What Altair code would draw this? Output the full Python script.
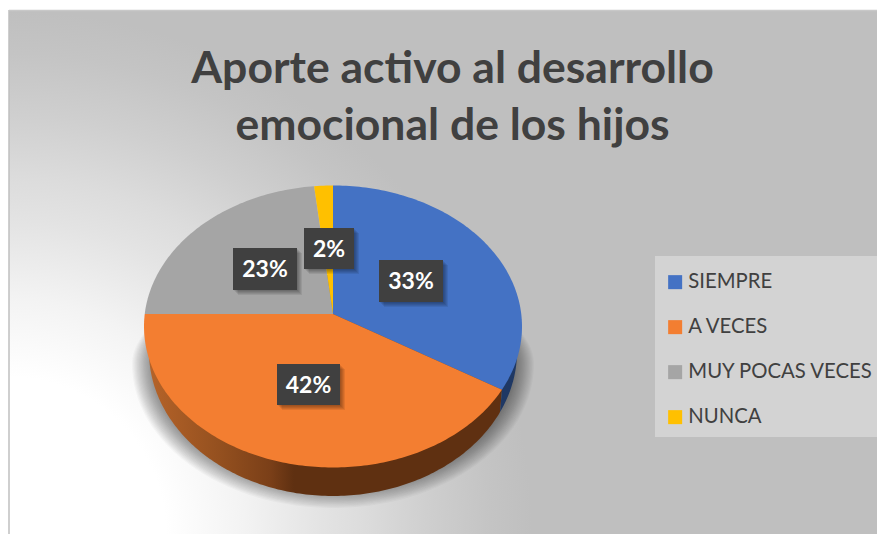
import math
import altair as alt
import pandas as pd

categories = ["SIEMPRE", "A VECES", "MUY POCAS VECES", "NUNCA"]
values = [33, 42, 23.4, 1.6]
colors = ["#4472c4", "#f37e31", "#a5a5a5", "#ffc000"]
labels = ["33%", "42%", "23%", "2%"]
label_boxes = [(379, 443, 260, 302), (277, 340, 364, 405), (233, 297, 248, 290), (304, 354, 228, 269)]
legend_box = [(655, 877, 256, 437)]
title_lines = ["Aporte activo al desarrollo", "emocional de los hijos"]
title_pos = [(452.5, 83), (452.5, 140)]

CX, CY, RX, RUP, RDOWN = 333, 314, 189, 129, 154
FACE_CY, FACE_RY = 326.5, 141
BASE_RX, BASE_CY, BASE_RY = 184, 351.5, 144.5
W, H = 869, 526
xs = alt.Scale(domain=[8, 877], range=[0, W], zero=False, nice=False)
ys = alt.Scale(domain=[8, 534], range=[0, H], zero=False, nice=False)


def soft_rim(t, rx=RX, up=RUP, down=RDOWN):
    c = math.cos(t)
    return CX + rx * math.sin(t), CY - (up if c > 0 else down) * c


def rim(t):
    # the ray through the pie's centre, met with the face's outline
    px, py = soft_rim(t)
    dx, dy = px - CX, py - CY
    oy = CY - FACE_CY
    a = dx * dx / RX ** 2 + dy * dy / FACE_RY ** 2
    b = 2 * oy * dy / FACE_RY ** 2
    c = oy * oy / FACE_RY ** 2 - 1
    s = (-b + math.sqrt(b * b - 4 * a * c)) / (2 * a)
    return CX + s * dx, CY + s * dy


def base(u):
    return CX + BASE_RX * math.sin(u), BASE_CY - BASE_RY * math.cos(u)


def samples(a, b, step=1.0):
    n = max(2, int(abs(b - a) / step) + 2)
    return [math.radians(a + (b - a) * k / (n - 1)) for k in range(n)]


# top-face slices
rows = []
start = 0.0
for cat, v in zip(categories, values):
    end = start + v * 3.6
    pts = [(CX, CY)] + [rim(t) for t in samples(start, end)] + [(CX, CY)]
    for i, (x, y) in enumerate(pts):
        rows.append({"cat": cat, "i": i, "x": x, "y": y})
    start = end
slices = pd.DataFrame(rows)

# the rim point where the first two slices meet
seam = rim(math.radians(values[0] * 3.6))


# side walls: the base outline, closed under the face
def wall(a, b, closing):
    pts = [base(u) for u in samples(a, b)] + closing
    return pd.DataFrame([{"i": i, "x": x, "y": y} for i, (x, y) in enumerate(pts)])


blue_wall = wall(60, 114.8, [seam, (CX, CY)])
orange_wall = wall(114.8, 285, [(CX, CY), seam])

# soft shadow under the pie
shadow_rows = []
SHADOW_LAYERS = 16
for k in range(SHADOW_LAYERS):
    grow = 12 - k * 1.2
    for i, t in enumerate(samples(0, 360, 3)):
        x, y = soft_rim(t, RX + grow, RUP - 40, 132 + grow)
        shadow_rows.append({"k": k, "i": i, "x": x, "y": y + 50})
shadow = pd.DataFrame(shadow_rows)

boxes = pd.DataFrame(
    [{"x": b[0], "x2": b[1], "y": b[2], "y2": b[3], "t": l,
      "tx": (b[0] + b[1]) / 2, "ty": (b[2] + b[3]) / 2 + 1} for b, l in zip(label_boxes, labels)]
)
box_shadows = pd.DataFrame(
    [{"x": b[0] + o, "x2": b[1] + o, "y": b[2] + o, "y2": b[3] + o} for b in label_boxes for o in (1, 2, 3, 4, 5)]
)
legend_bg = pd.DataFrame([{"x": b[0], "x2": b[1], "y": b[2], "y2": b[3]} for b in legend_box])
titles = pd.DataFrame([{"t": t, "x": p[0], "y": p[1]} for t, p in zip(title_lines, title_pos)])

bg_base = alt.Chart(pd.DataFrame({"a": [0]})).mark_rect(color="#bfbfbf").encode(
    x=alt.value(1), x2=alt.value(W), y=alt.value(3), y2=alt.value(H)
)
bg = alt.Chart(pd.DataFrame({"a": [0]})).mark_rect(
    color=alt.Gradient(
        gradient="radial", x1=0, y1=1, r1=0, x2=0, y2=1, r2=1.0,
        stops=[
            alt.GradientStop(offset=0, color="#ffffff"),
            alt.GradientStop(offset=0.3, color="#ffffff"),
            alt.GradientStop(offset=0.45, color="#f3f3f3"),
            alt.GradientStop(offset=0.6, color="#e3e3e3"),
            alt.GradientStop(offset=0.68, color="#dcdcdc"),
            alt.GradientStop(offset=0.8, color="#cfcfcf"),
            alt.GradientStop(offset=0.92, color="#c4c4c4"),
            alt.GradientStop(offset=1, color="#bfbfbf"),
        ],
    )
).encode(x=alt.value(1), x2=alt.value(H - 2), y=alt.value(3), y2=alt.value(H))

frame_left = alt.Chart(pd.DataFrame({"a": [0]})).mark_rule(color="#bfbfbf", strokeWidth=1.5).encode(
    x=alt.value(1), y=alt.value(2), y2=alt.value(H)
)
frame_top = alt.Chart(pd.DataFrame({"a": [0]})).mark_rule(color="#c8c8c8", strokeWidth=1.5).encode(
    x=alt.value(1), x2=alt.value(W), y=alt.value(2.5)
)

X = alt.X("x:Q", scale=xs, axis=None)
Y = alt.Y("y:Q", scale=ys, axis=None)

shadow_layer = alt.Chart(shadow).mark_line(fill="#000000", fillOpacity=0.027, strokeOpacity=0).encode(
    x=X, y=Y, detail="k:N", order="i:Q"
)

orange_side = alt.Chart(orange_wall).mark_line(
    strokeOpacity=0,
    fill=alt.Gradient(
        gradient="linear", x1=1, y1=0, x2=0, y2=0,
        stops=[
            alt.GradientStop(offset=0, color="#5f3011"),
            alt.GradientStop(offset=0.59, color="#5f3011"),
            alt.GradientStop(offset=0.655, color="#7a3f18"),
            alt.GradientStop(offset=0.8, color="#94501f"),
            alt.GradientStop(offset=1, color="#b56329"),
        ],
    ),
).encode(x=X, y=Y, order="i:Q")

blue_side = alt.Chart(blue_wall).mark_line(fill="#1f3864", strokeOpacity=0).encode(x=X, y=Y, order="i:Q")

faces = alt.Chart(slices).mark_line(strokeOpacity=0).encode(
    x=X,
    y=Y,
    order="i:Q",
    fill=alt.Fill(
        "cat:N",
        scale=alt.Scale(domain=categories, range=colors),
        legend=alt.Legend(
            orient="none", legendX=657, legendY=264, title=None,
            padding=0, symbolType="square", symbolSize=196, symbolStrokeWidth=0,
            labelFont="Lato", labelFontSize=20.3, labelColor="#404040", labelOffset=3,
            labelLimit=260, rowPadding=24, symbolOpacity=1,
        ),
    ),
)

legend_rect = alt.Chart(legend_bg).mark_rect(color="#d3d3d3").encode(x=X, x2="x2:Q", y=Y, y2="y2:Q")
box_shadow_layer = alt.Chart(box_shadows).mark_rect(color="#000000", opacity=0.08).encode(
    x=X, x2="x2:Q", y=Y, y2="y2:Q"
)
box_layer = alt.Chart(boxes).mark_rect(color="#404040").encode(x=X, x2="x2:Q", y=Y, y2="y2:Q")
box_text = alt.Chart(boxes).mark_text(
    font="Lato", fontWeight="bold", fontSize=23, color="#ffffff", baseline="middle"
).encode(x=alt.X("tx:Q", scale=xs, axis=None), y=alt.Y("ty:Q", scale=ys, axis=None), text="t:N")

title_layer = alt.Chart(titles).mark_text(
    font="Lato", fontWeight="bold", fontSize=44.5, color="#404040", baseline="alphabetic"
).encode(x=X, y=Y, text="t:N")

chart = alt.layer(
    bg_base, bg, frame_left, frame_top, legend_rect, shadow_layer, orange_side, blue_side, faces,
    box_shadow_layer, box_layer, box_text, title_layer,
).properties(
    width=W, height=H, padding=0, background="#ffffff",
    autosize=alt.AutoSizeParams(type="none"),
).configure_view(stroke=None)

chart.save("out.html", embed_options={"renderer": "svg", "actions": False})
